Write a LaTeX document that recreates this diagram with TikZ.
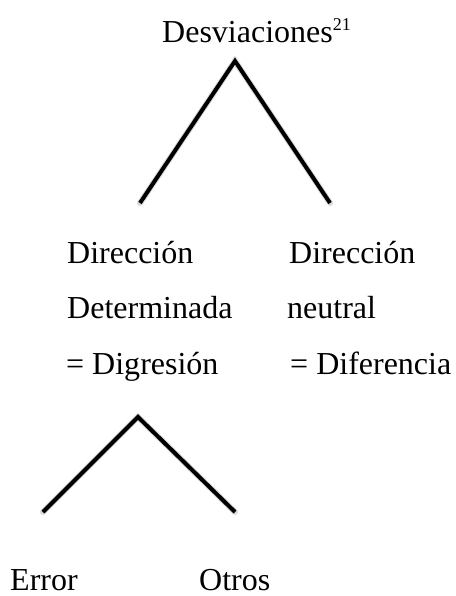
\documentclass[tikz,border=0pt]{standalone}
\usepackage{fontspec}
\setmainfont{Liberation Serif}
\begin{document}
\begin{tikzpicture}[x=1pt,y=-1pt,
  lbl/.style={anchor=base west,inner sep=0pt,text depth=0pt,font=\fontsize{32}{36}\selectfont},
  branch/.style={line width=4pt,line cap=butt,line join=miter},
  shade/.style={line width=6pt,draw=black!15,line cap=round}]
\useasboundingbox (0,0) rectangle (455,596);
% text
\node[lbl] (root) at (162,43) {Desviaciones\raisebox{12pt}{\fontsize{18}{18}\selectfont 21}};
\node[lbl] (l1) at (67,263) {Dirección};
\node[lbl] (l2) at (67,318.5) {Determinada};
\node[lbl] (l3) at (66,374) {= Digresión};
\node[lbl] (r1) at (289,263) {Dirección};
\node[lbl] (r2) at (287,318.5) {neutral};
\node[lbl] (r3) at (290,374) {= Diferencia};
\node[lbl] (err) at (10,590) {Error};
\node[lbl] (otr) at (199,590) {Otros};
% branch points
\coordinate (a1) at (235,61);
\coordinate (a1l) at (140,203);
\coordinate (a1r) at (330,203);
\coordinate (a2) at (138,417);
\coordinate (a2l) at (43,512);
\coordinate (a2r) at (235,512);
% shadows
\draw[shade,shift={(1.5,2.5)}] (a1l) -- (a1) -- (a1r);
\draw[shade,shift={(1.5,2.5)}] (a2l) -- (a2) -- (a2r);
% branches
\draw[branch] (a1l) -- (a1) -- (a1r);
\draw[branch] (a2l) -- (a2) -- (a2r);
\end{tikzpicture}
\end{document}
